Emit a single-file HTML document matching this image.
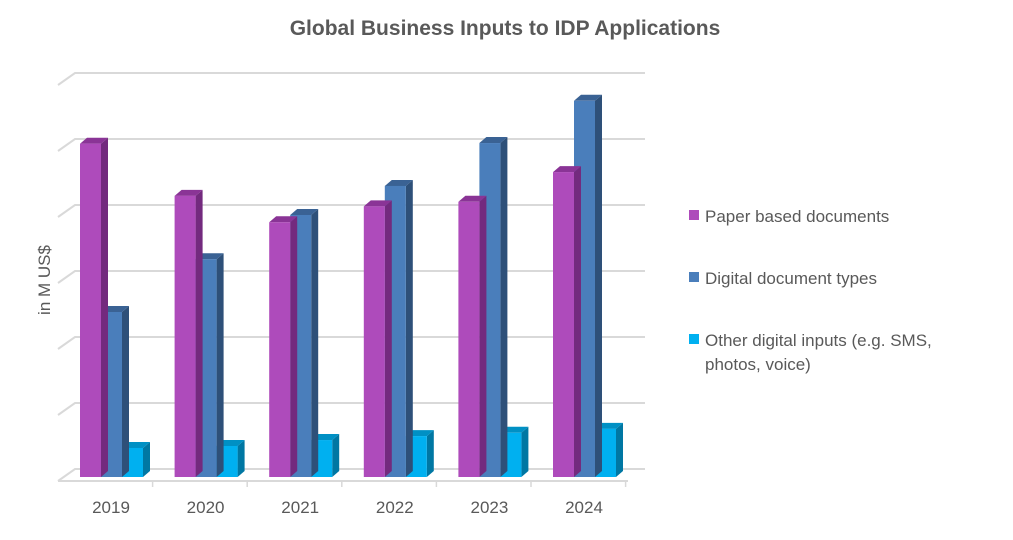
<!DOCTYPE html>
<html><head><meta charset="utf-8"><style>
body{margin:0;background:#fff;font-family:"Liberation Sans",sans-serif}
svg text{font-family:"Liberation Sans",sans-serif;fill:#595959}
</style></head><body>
<svg id="c" width="1013" height="535">
<text x="505" y="35" text-anchor="middle" font-size="21" font-weight="bold">Global Business Inputs to IDP Applications</text>
<text transform="translate(50,280) rotate(-90)" text-anchor="middle" font-size="17">in M US$</text>
<g id="grid"></g><g id="bars"></g><g id="xl"></g>
<g>
<rect x="689" y="210" width="10" height="10" fill="#ae4bbb"/>
<text x="705" y="222" font-size="17">Paper based documents</text>
<rect x="689" y="272" width="10" height="10" fill="#4a7ebb"/>
<text x="705" y="284" font-size="17">Digital document types</text>
<rect x="689" y="334" width="10" height="10" fill="#00b0f0"/>
<text x="705" y="346" font-size="17">Other digital inputs (e.g. SMS,</text>
<text x="705" y="370" font-size="17">photos, voice)</text>
</g>
</svg>
<script>
const categories=["2019","2020","2021","2022","2023","2024"];
const paper=[5.05,4.26,3.86,4.1,4.17,4.62];
const digital=[2.5,3.3,3.97,4.41,5.06,5.7];
const other=[0.44,0.47,0.56,0.62,0.67,0.73];
const yTicks=[0,1,2,3,4,5,6];
const NS="http://www.w3.org/2000/svg";
const y0=477,ppu=66,dx=7,dy=6,bw=21;
function y(v){return y0-v*ppu;}
function x(i){return 80+i*94.6;}
function mk(t,a,p){const e=document.createElementNS(NS,t);for(const k in a)e.setAttribute(k,a[k]);p.appendChild(e);return e;}
const g=document.getElementById('grid');
yTicks.forEach(t=>{const yy=y(t)-8;
const l=mk('polyline',{points:`58,${yy+12} 75,${yy} 645,${yy}`,fill:'none',stroke:'#d9d9d9','stroke-width':2},g);

});
const ax=mk('line',{x1:58,y1:481,x2:628,y2:481,stroke:'#d9d9d9','stroke-width':2},g);


const b=document.getElementById('bars');
const series=[[paper,'#ae4bbb','#8a3496','#732a7e','paper'],[digital,'#4a7ebb','#3a6294','#2e5079','digital'],[other,'#00b0f0','#0090c4','#0077a3','other']];
categories.forEach((c,i)=>{
series.slice().reverse().forEach((s,jr)=>{const j=2-jr;const v=s[0][i];const xl=x(i)+j*bw,yt=y(v);
const gg=mk('g',{},b);


mk('polygon',{points:`${xl+bw},${yt} ${xl+bw+dx},${yt-dy} ${xl+bw+dx},${y0-dy} ${xl+bw},${y0}`,fill:s[3]},gg);
mk('polygon',{points:`${xl},${yt} ${xl+dx},${yt-dy} ${xl+bw+dx},${yt-dy} ${xl+bw},${yt}`,fill:s[2]},gg);
mk('rect',{x:xl,y:yt,width:bw,height:y0-yt,fill:s[1]},gg);
});
const t=mk('text',{x:x(i)+31,y:513,'text-anchor':'middle','font-size':17},document.getElementById('xl'));
t.textContent=c;


const tk=mk('line',{x1:x(i)-22+94.6,y1:481,x2:x(i)-22+94.6,y2:487,stroke:'#d9d9d9','stroke-width':1.5},g);


});
</script>
</body></html>
